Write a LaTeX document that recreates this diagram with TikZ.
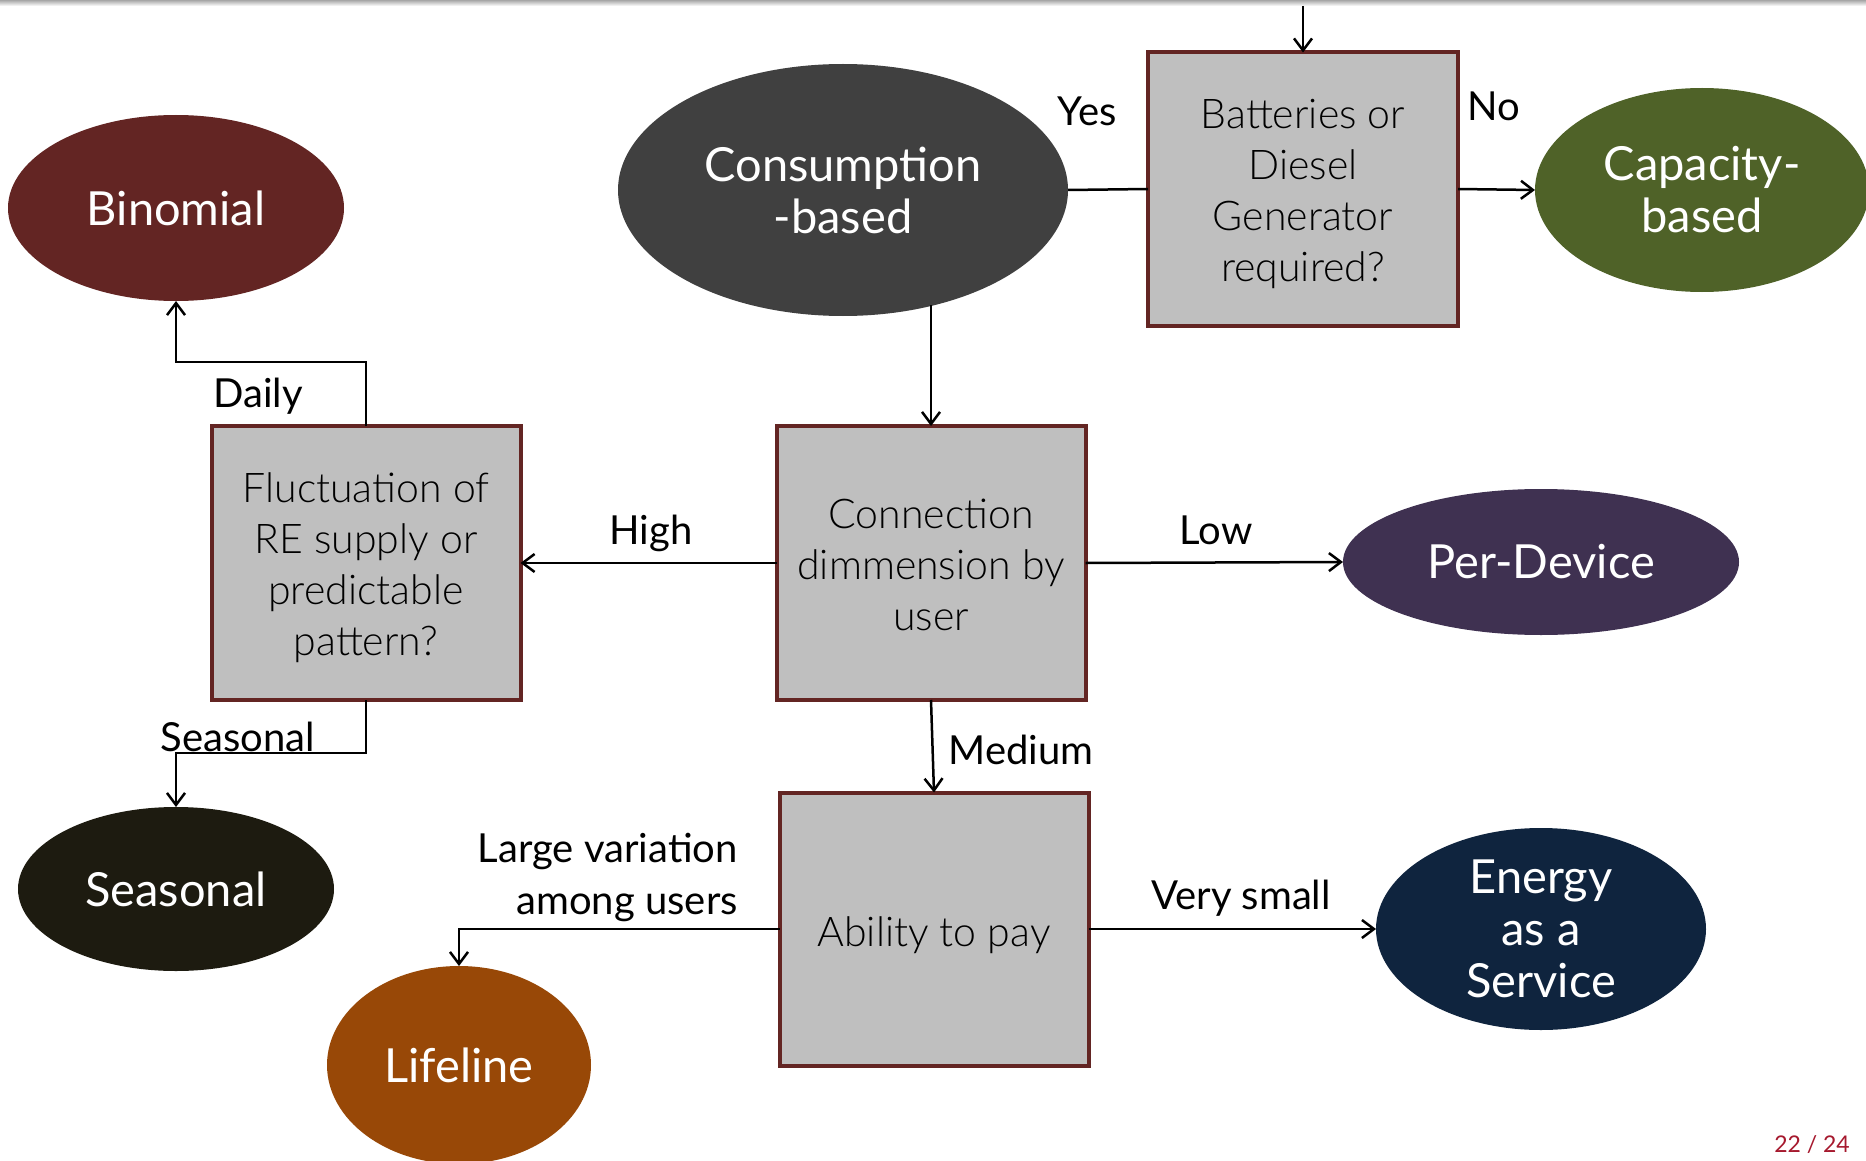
\documentclass[tikz,border=0pt]{standalone}
\usepackage{fontspec}
\setmainfont{Lato}
\newfontfamily\lightfont{Lato Light}
\usetikzlibrary{shapes.geometric,arrows.meta}

\definecolor{boxfill}{HTML}{BFBFBF}
\definecolor{boxedge}{HTML}{632523}
\definecolor{cConsumption}{HTML}{404040}
\definecolor{cCapacity}{HTML}{4F6228}
\definecolor{cBinomial}{HTML}{632523}
\definecolor{cDevice}{HTML}{3F3151}
\definecolor{cSeasonal}{HTML}{1D1B10}
\definecolor{cLifeline}{HTML}{984807}
\definecolor{cService}{HTML}{0F243E}
\definecolor{pagenum}{HTML}{A6192E}

\tikzset{
  question/.style={draw=boxedge, line width=4pt, fill=boxfill, rectangle,
    inner sep=0pt, outer sep=0pt},
  qtext/.style={inner sep=0pt, align=center, text=black,
    font=\lightfont\fontsize{41}{51}\selectfont},
  outcome/.style={ellipse, fill=#1, inner sep=-40pt, outer sep=0pt,
    align=center, text=white, font=\fontsize{47}{52}\selectfont},
  edgelabel/.style={inner sep=0pt, text=black, font=\fontsize{40}{52}\selectfont},
  flow/.style={line width=2.5pt, draw=black},
  arr/.style={flow, -{Straight Barb[length=12pt,width=18pt,line width=2.5pt]}}
}

\begin{document}
\begin{tikzpicture}[x=1pt, y=-1pt]
\useasboundingbox (0,0) rectangle (1866,1161);
\fill[white] (0,0) rectangle (1866,1161);
% thin shadow along the top edge
\shade[top color=black!35, bottom color=white] (0,0) rectangle (1866,6);

% decision boxes
\node[question, minimum width=310pt, minimum height=273pt] (batteries) at (1303,189) {};
\node[question, minimum width=309pt, minimum height=274pt] (fluct) at (366,563) {};
\node[question, minimum width=309pt, minimum height=274pt] (conn) at (931,563) {};
\node[question, minimum width=309pt, minimum height=273pt] (ability) at (934,929) {};

\node[qtext] (batteriesText) at ([yshift=-5pt]batteries.center)
  {Batteries or\\Diesel\\Generator\\required?};
\node[qtext] (fluctText) at ([yshift=-5pt]fluct.center)
  {Fluctuation of\\RE supply or\\predictable\\pattern?};
\node[qtext] (connText) at ([yshift=-2pt]conn.center)
  {Connection\\dimmension by\\user};
\node[qtext] (abilityText) at ([yshift=-6pt]ability.center)
  {Ability to pay};

% tariff outcomes
\node[outcome=cConsumption, minimum width=450pt, minimum height=252pt] (consumption) at (843,190)
  {Consumption\\-based};
\node[outcome=cCapacity, minimum width=334pt, minimum height=204pt] (capacity) at (1702,190)
  {Capacity-\\based};
\node[outcome=cBinomial, minimum width=336pt, minimum height=186pt] (binomial) at (176,208)
  {Binomial};
\node[outcome=cDevice, minimum width=396pt, minimum height=146pt] (perdev) at (1541,562)
  {Per-Device};
\node[outcome=cSeasonal, minimum width=316pt, minimum height=164pt] (seasonal) at (176,889)
  {Seasonal};
\node[outcome=cLifeline, minimum width=264pt, minimum height=198pt] (lifeline) at (459,1065)
  {Lifeline};
\node[outcome=cService, minimum width=330pt, minimum height=202pt] (eaas) at (1541,929)
  {Energy\\as a\\Service};

% connectors
\coordinate (entry) at (1303,6);
\draw[arr] (entry) -- (batteries.north);
\draw[flow] (consumption.east) -- (batteries.west);
\draw[arr] (batteries.east) -- (capacity.west);
\draw[arr] (conn.north |- consumption.-52) -- (conn.north);
\draw[arr] (conn.west) -- (fluct.east);
\draw[arr] (conn.east) -- (perdev.west);
\draw[arr] (conn.south) -- (ability.north);
\draw[arr] (fluct.north) -- ++(0,-64) -| (binomial.south);
\draw[arr] (fluct.south) -- ++(0,53) -| (seasonal.north);
\draw[arr] (ability.west) -| (lifeline.north);
\draw[arr] (ability.east) -- (eaas.west);

% branch labels
\node[edgelabel] (lYes) at (1087,111) {Yes};
\node[edgelabel] (lNo) at (1494,106) {No};
\node[edgelabel] (lDaily) at (258,396) {Daily};
\node[edgelabel] (lSeasonal) at (238,737) {Seasonal};
\node[edgelabel] (lHigh) at (651,533) {High};
\node[edgelabel] (lLow) at (1216,530) {Low};
\node[edgelabel] (lMedium) at (1021,750) {Medium};
\node[edgelabel, align=right, anchor=east] (lLarge) at (738,877) {Large variation\\among users};
\node[edgelabel] (lSmall) at (1241,898) {Very small};

% page number
\node[inner sep=0pt, text=pagenum, font=\fontsize{23}{26}\selectfont, anchor=east] (page) at (1850,1145) {22 / 24};
\end{tikzpicture}
\end{document}
